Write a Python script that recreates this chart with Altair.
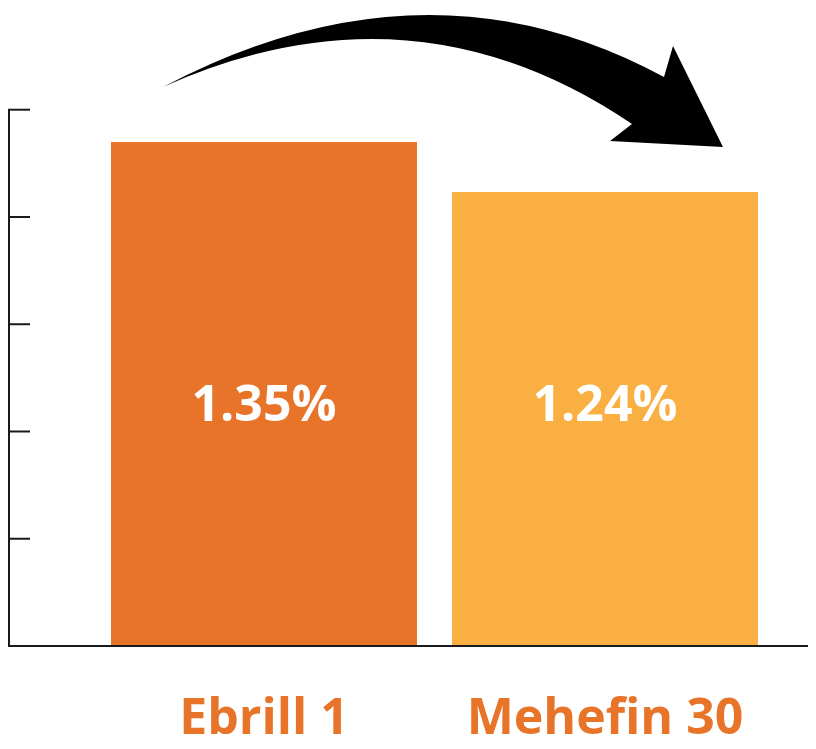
import altair as alt
import pandas as pd

# ---- data ----
categories = ["Ebrill 1", "Mehefin 30"]
values = [1.35, 1.24]
labels = ["1.35%", "1.24%"]
colors = ["#E8742A", "#F9AF42"]

axis_min = 0.24
axis_max = 1.645
tick_step = 0.2362
tick_values = [round(axis_min + k * tick_step, 4) for k in range(6)]

W, H = 800, 638

df = pd.DataFrame({"cat": categories, "value": values, "label": labels})
ticks_df = pd.DataFrame({"t": tick_values})
one = pd.DataFrame({"a": [0]})

x_scale = alt.Scale(domain=categories, range=[103, 750], paddingInner=0.1026, paddingOuter=0)
y_scale = alt.Scale(domain=[axis_min, axis_max], zero=False, nice=False)

x_axis = alt.Axis(title=None, domain=False, ticks=False, labelAngle=0,
                  labelFont="Open Sans", labelFontSize=50, labelFontWeight="bold",
                  labelColor="#E8742A", labelPadding=47, labelLimit=500,
                  labelOverlap=False)

bars = alt.Chart(df).mark_bar().encode(
    x=alt.X("cat:N", scale=x_scale, sort=categories, axis=x_axis),
    y=alt.Y("value:Q", scale=y_scale, axis=None),
    y2=alt.datum(axis_min),
    color=alt.Color("cat:N", scale=alt.Scale(domain=categories, range=colors), legend=None),
)

text = alt.Chart(df).mark_text(font="Open Sans", fontSize=50, fontWeight="bold",
                               color="white", baseline="middle").encode(
    x=alt.X("cat:N", scale=x_scale, sort=categories, axis=x_axis),
    y=alt.value(398),
    text="label:N",
)

line_color = "#1a1a1a"

baseline = alt.Chart(one).mark_rule(color=line_color, strokeWidth=2).encode(
    y=alt.Y(datum=axis_min, scale=y_scale, axis=None),
    x=alt.value(0), x2=alt.value(W),
)

yline = alt.Chart(one).mark_rule(color=line_color, strokeWidth=2).encode(
    x=alt.value(1),
    y=alt.Y(datum=max(tick_values), scale=y_scale, axis=None),
    y2=alt.datum(axis_min),
)

ticks = alt.Chart(ticks_df).mark_rule(color=line_color, strokeWidth=2).encode(
    y=alt.Y("t:Q", scale=y_scale, axis=None),
    x=alt.value(0), x2=alt.value(22),
)

# curved arrow annotation, outline in page pixels
cx, cy, R = 443, 81, 280


def n(x, y):
    return f"{(x - cx) / R:.4f},{(y - cy) / R:.4f}"


arrow_path = (
    f"M{n(163, 87)} Q{n(426, -52)} {n(664, 77)} L{n(673, 46)} L{n(723, 147)} "
    f"L{n(610, 141)} L{n(632, 124)} Q{n(412, -25)} {n(163, 87)} Z"
)

arrow = alt.Chart(one).mark_point(shape=arrow_path, size=(2 * R) ** 2, filled=True,
                                  color="black", opacity=1, strokeWidth=0).encode(
    x=alt.value(cx - 8), y=alt.value(cy - 8)
)

chart = alt.layer(bars, text, baseline, yline, ticks, arrow).properties(
    width=W, height=H,
    padding={"left": 0, "top": 0, "right": 0, "bottom": 103},
    autosize=alt.AutoSizeParams(type="none"),
).configure_view(stroke=None)

chart.save("out.html", embed_options={"renderer": "svg", "actions": False})
